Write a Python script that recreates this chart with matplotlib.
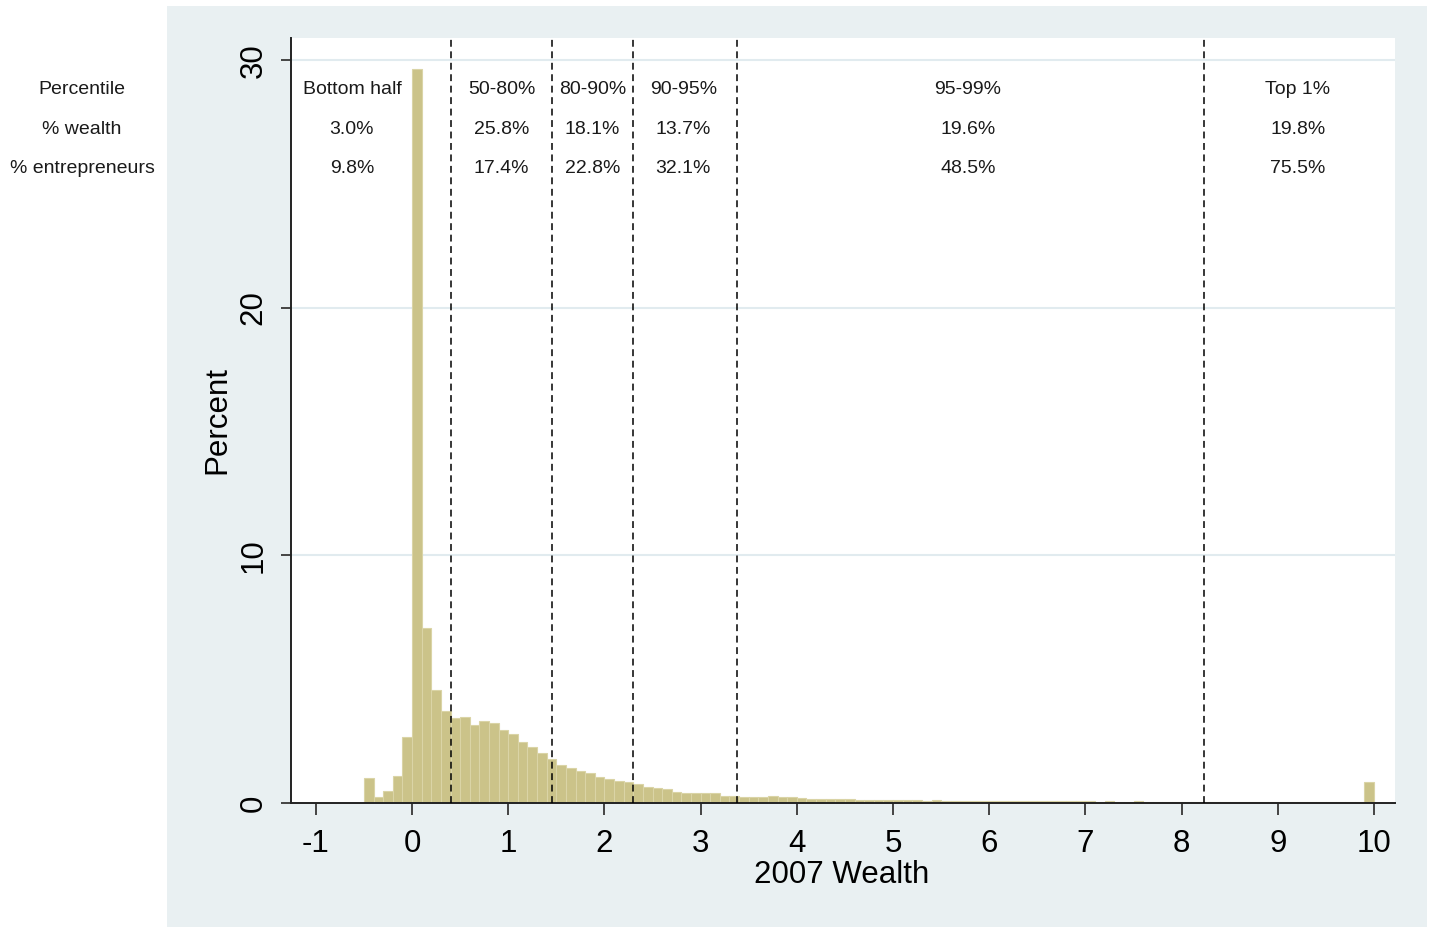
import numpy as np
import matplotlib
matplotlib.use("Agg")
import matplotlib.pyplot as plt
from matplotlib.patches import Rectangle
from matplotlib.transforms import blended_transform_factory

# ---------------- data ----------------
bin_start = -0.5
bin_width = 0.1
percent = [
    # -0.5 .. -0.1
    1.02, 0.25, 0.48, 1.10, 2.65,
    # 0.0 .. 0.9
    29.65, 7.06, 4.58, 3.73, 3.45, 3.49, 3.15, 3.31, 3.24, 2.95,
    # 1.0 .. 1.9
    2.77, 2.47, 2.27, 2.00, 1.76, 1.53, 1.43, 1.30, 1.20, 1.04,
    # 2.0 .. 2.9
    0.96, 0.90, 0.83, 0.75, 0.66, 0.59, 0.56, 0.46, 0.39, 0.39,
    # 3.0 .. 3.9
    0.39, 0.39, 0.28, 0.28, 0.26, 0.26, 0.26, 0.27, 0.25, 0.24,
    # 4.0 .. 4.9
    0.19, 0.18, 0.17, 0.17, 0.16, 0.15, 0.14, 0.13, 0.13, 0.12,
    # 5.0 .. 5.9
    0.12, 0.11, 0.11, 0.10, 0.11, 0.10, 0.09, 0.10, 0.09, 0.09,
    # 6.0 .. 6.9
    0.09, 0.08, 0.09, 0.08, 0.08, 0.09, 0.07, 0.08, 0.07, 0.07,
    # 7.0 .. 7.9
    0.07, 0.06, 0.07, 0.06, 0.06, 0.07, 0.06, 0.06, 0.05, 0.06,
    # 8.0 .. 8.9
    0.06, 0.05, 0.06, 0.05, 0.05, 0.05, 0.05, 0.04, 0.05, 0.05,
    # 9.0 .. 9.9
    0.04, 0.05, 0.04, 0.04, 0.05, 0.04, 0.04, 0.04, 0.04, 0.85,
]

cutoffs = [0.405, 1.455, 2.297, 3.378, 8.233]

row_labels = ["Percentile", "% wealth", "% entrepreneurs"]
groups = ["Bottom half", "50-80%", "80-90%", "90-95%", "95-99%", "Top 1%"]
wealth_share = ["3.0%", "25.8%", "18.1%", "13.7%", "19.6%", "19.8%"]
entre_share = ["9.8%", "17.4%", "22.8%", "32.1%", "48.5%", "75.5%"]
group_x = [-0.625, 0.93, 1.876, 2.82, 5.78, 9.21]

x_ticks = list(range(-1, 11))
y_ticks = [0, 10, 20, 30]

# ---------------- style ----------------
BG = "#E9F0F2"
GRID = "#E1EBEF"
BAR = "#CBC389"
BAR_EDGE = "#DAD4A6"
AX = "#222222"

plt.rcParams["font.family"] = ["Liberation Sans", "DejaVu Sans"]
plt.rcParams["axes.unicode_minus"] = False

fig = plt.figure(figsize=(14.33, 9.27), dpi=100, facecolor="white")
fig.patches.append(Rectangle((167 / 1433, 0), (1427 - 167) / 1433, 921 / 927,
                             transform=fig.transFigure, facecolor=BG,
                             edgecolor="none", zorder=-10))

ax = fig.add_axes([291 / 1433, (927 - 803) / 927, (1395 - 291) / 1433, (803 - 38) / 927])
ax.set_facecolor("white")
ax.set_zorder(1)

edges = bin_start + bin_width * np.arange(len(percent))
ax.bar(edges, percent, width=bin_width, align="edge", color=BAR,
       edgecolor=BAR_EDGE, linewidth=0.8, zorder=2)

for c in cutoffs:
    ax.axvline(c, color="black", linestyle=(0, (4.5, 3)), linewidth=1.1, zorder=3)

ax.set_xlim(-1.258, 10.218)
ax.set_ylim(0, 30.9)
ax.set_xticks(x_ticks)
ax.set_yticks(y_ticks)
for yv in y_ticks[1:]:
    ax.axhline(yv, color=GRID, linewidth=1.5, zorder=1)

for s in ["top", "right"]:
    ax.spines[s].set_visible(False)
for s in ["left", "bottom"]:
    ax.spines[s].set_color(AX)
    ax.spines[s].set_linewidth(1.4)

ax.tick_params(axis="x", direction="out", length=8.5, width=1.4, color="#444444",
               labelsize=22.5, pad=10)
ax.tick_params(axis="y", direction="out", length=7, width=1.4, color="#444444",
               labelsize=22.5, pad=9)
for lab in ax.get_yticklabels():
    lab.set_rotation(90)
    lab.set_va("center")

ax.set_xlabel("2007 Wealth", fontsize=22.5)
ax.xaxis.set_label_coords(0.499, -0.074)
ax.set_ylabel("Percent", fontsize=22.5)
ax.yaxis.set_label_coords(-0.053, 0.5)

row_y = [28.83, 27.21, 25.64]
txt_kw = dict(fontsize=14, color="#1a1a1a", ha="center", va="center", zorder=4)
for gx, g, w, e in zip(group_x, groups, wealth_share, entre_share):
    ax.text(gx, row_y[0], g, **txt_kw)
    ax.text(gx, row_y[1], w, **txt_kw)
    ax.text(gx, row_y[2], e, **txt_kw)

tr = blended_transform_factory(fig.transFigure, ax.transData)
for ry, lab in zip(row_y, row_labels):
    ax.text(82 / 1433, ry, lab, transform=tr, clip_on=False, **txt_kw)

fig.savefig("out.png", dpi=100, facecolor="white")
